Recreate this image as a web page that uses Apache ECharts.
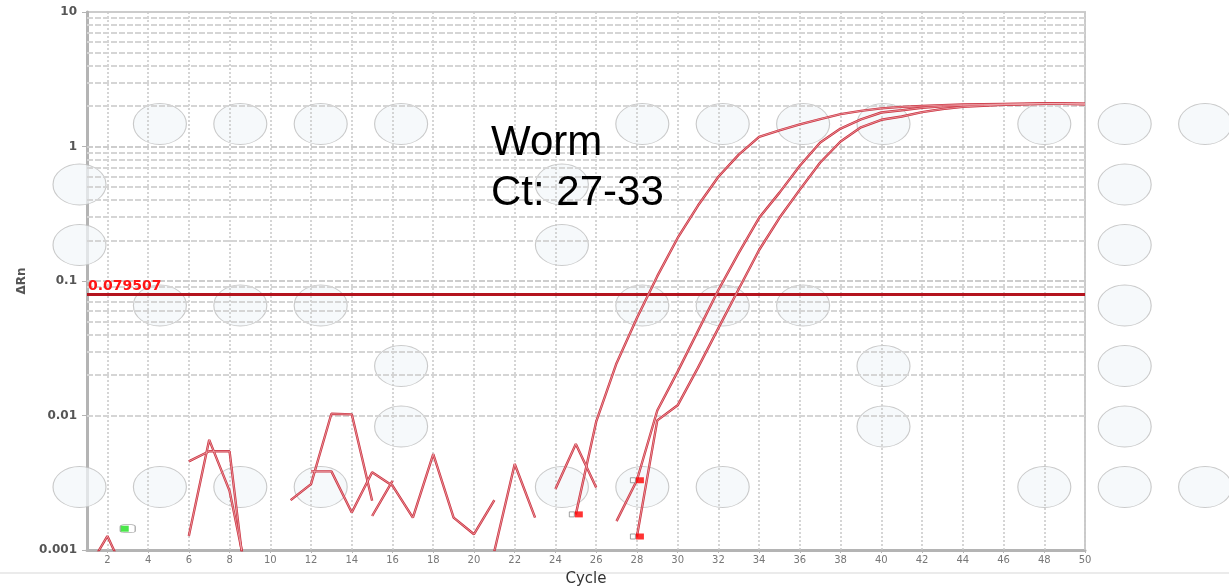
<!DOCTYPE html>
<html><head><meta charset="utf-8">
<script src="https://cdn.jsdelivr.net/npm/echarts@6/dist/echarts.min.js"></script>
<style>html,body{margin:0;padding:0;background:#fff}#c{width:1229px;height:587px}</style>
</head><body><div id="c"></div>
<script>
// ---- data ----
const cycles = [1,2,3,4,5,6,7,8,9,10,11,12,13,14,15,16,17,18,19,20,21,22,23,24,25,26,27,28,29,30,31,32,33,34,35,36,37,38,39,40,41,42,43,44,45,46,47,48,49,50];
const sampleA = [0.0007,0.00127,0.0006,null,null,0.00456,0.00542,0.00542,0.0003,null,
  0.00235,0.00309,0.0103,0.0102,0.00232,null,null,null,null,null,
  0.00098,0.00436,0.00174,null,0.00184,0.0090,0.0245,0.0531,0.1086,0.209,
  0.364,0.596,0.871,1.18,1.32,1.46,1.60,1.74,1.84,1.92,
  1.97,2.00,2.03,2.05,2.06,2.07,2.08,2.09,2.08,2.07];
const sampleB = [null,null,null,null,null,0.00127,0.00659,0.00275,0.0005,null,
  null,0.00384,0.00384,0.0019,0.00378,0.00301,0.00174,0.00517,0.00174,0.00131,
  0.00235,null,null,null,null,null,0.00164,0.0033,0.0109,0.0212,
  0.0426,0.0857,0.162,0.295,0.454,0.72,1.07,1.36,1.59,1.79,
  1.86,1.94,1.99,2.02,2.04,2.06,2.07,2.08,2.08,2.07];
const sampleC = [null,null,null,null,null,null,null,null,null,null,
  null,null,null,null,0.00179,0.00327,null,null,null,null,
  null,null,null,0.00284,0.00615,0.00292,null,0.00126,0.0092,0.0119,
  0.0227,0.0446,0.0871,0.170,0.295,0.478,0.76,1.09,1.39,1.58,
  1.67,1.80,1.90,1.97,2.01,2.04,2.06,2.08,2.08,2.07];
const threshold = 0.079507;
const thresholdLabel = '0.079507';
const baselineStart = [[3, 0.00144]];
const baselineEnd = [[25, 0.00184], [28, 0.0033], [28, 0.00126]];
const xTickValues = [2,4,6,8,10,12,14,16,18,20,22,24,26,28,30,32,34,36,38,40,42,44,46,48,50];
const yTickValues = [0.001, 0.01, 0.1, 1, 10];
const yTickLabels = ['0.001', '0.01', '0.1', '1', '10'];
const yDecadeLines = [0.01, 0.1, 1];
const yMinorLines = [0.002,0.003,0.004,0.005,0.006,0.007,0.008,0.009,
  0.02,0.03,0.04,0.05,0.06,0.07,0.08,0.09,
  0.2,0.3,0.4,0.5,0.6,0.7,0.8,0.9,
  2,3,4,5,6,7,8,9];
// background plate wells [column, row]
const wells = [[1,0],[2,0],[3,0],[4,0],[7,0],[8,0],[9,0],[10,0],[12,0],[13,0],[14,0],
  [0,1],[6,1],[13,1],
  [0,2],[6,2],[13,2],
  [1,3],[2,3],[3,3],[7,3],[8,3],[9,3],[13,3],
  [4,4],[10,4],[13,4],
  [4,5],[10,5],[13,5],
  [0,6],[1,6],[2,6],[3,6],[6,6],[7,6],[8,6],[12,6],[13,6],[14,6]];
const annotation = ['Worm', 'Ct: 27-33'];

// ---- chart ----
const chart = echarts.init(document.getElementById('c'), null, {renderer: 'canvas'});
const toPairs = arr => cycles.map((c, i) => [c, arr[i]]);
function curve(name, arr, color, width, z) {
  return {type: 'line', name, data: toPairs(arr), showSymbol: false, symbol: 'none',
    connectNulls: false, clip: true, z, silent: true,
    lineStyle: {color, width}};
}
const gridLineData = [];
xTickValues.forEach(v => gridLineData.push({xAxis: v, lineStyle: {color: '#c8c8c8', type: [2, 2], width: 1.5}}));
yDecadeLines.forEach(v => gridLineData.push({yAxis: v, lineStyle: {color: '#cdcdcd', type: [6, 2], width: 2}}));
yMinorLines.forEach(v => gridLineData.push({yAxis: v, lineStyle: {color: '#d5d5d5', type: [6, 2], width: 2}}));

const option = {
  animation: false,
  backgroundColor: '#ffffff',
  grid: [
    {left: 87, right: 144, top: 12, bottom: 37, show: true, borderColor: '#cccccc', borderWidth: 2, outerBoundsMode: 'none'},
    {left: 79.5, top: 124, width: 1125.6, height: 363, show: false, outerBoundsMode: 'none'}
  ],
  xAxis: [
    {type: 'value', min: 1, max: 50, gridIndex: 0,
      name: 'Cycle', nameLocation: 'middle', nameGap: 22,
      nameTextStyle: {fontFamily: 'DejaVu Sans', fontSize: 15, color: '#333'},
      axisLine: {show: true, onZero: false, lineStyle: {color: '#b4b4b4', width: 3}},
      axisTick: {show: true, customValues: xTickValues, length: 3, lineStyle: {color: '#b4b4b4'}},
      axisLabel: {customValues: xTickValues, margin: 5, fontFamily: 'DejaVu Sans', fontSize: 10, color: '#777'},
      splitLine: {show: false}},
    {type: 'value', min: 0, max: 14, gridIndex: 1, show: false}
  ],
  yAxis: [
    {type: 'log', logBase: 10, min: 0.001, max: 10, gridIndex: 0,
      name: 'ΔRn', nameLocation: 'middle', nameGap: 58, nameRotate: 90,
      nameTextStyle: {fontFamily: 'DejaVu Sans', fontSize: 12, fontWeight: 'bold', color: '#555'},
      axisLine: {show: true, lineStyle: {color: '#b4b4b4', width: 3}},
      axisTick: {show: true, length: 5, lineStyle: {color: '#b4b4b4'}},
      axisLabel: {margin: 10, fontFamily: 'DejaVu Sans', fontSize: 12, fontWeight: 'bold', color: '#555',
        formatter: v => {
          const k = yTickValues.findIndex(t => Math.abs(Math.log10(t) - Math.log10(v)) < 1e-6);
          return k >= 0 ? yTickLabels[k] : '';
        }},
      splitLine: {show: false}},
    {type: 'value', min: 0, max: 6, inverse: true, gridIndex: 1, show: false}
  ],
  graphic: [
    {type: 'line', shape: {x1: 0, y1: 573, x2: 1229, y2: 573}, style: {stroke: '#e4e4e4', lineWidth: 1.5}, z: 0},
    {type: 'text', left: 491, top: 118, z: 10,
      style: {text: annotation.join('\n'), font: '42px "Liberation Sans", Arial, sans-serif', lineHeight: 50, fill: '#000'}}
  ],
  series: [
    {type: 'scatter', xAxisIndex: 1, yAxisIndex: 1, data: wells, symbol: 'circle', symbolSize: [53, 41],
      clip: false, silent: true, z: 1,
      itemStyle: {color: 'rgba(243,247,249,0.9)', borderColor: '#bdbdbd', borderWidth: 1}},
    {type: 'line', name: 'grid', data: [], xAxisIndex: 0, yAxisIndex: 0, z: 2, silent: true,
      markLine: {silent: true, symbol: 'none', animation: false, label: {show: false}, data: gridLineData}},
    {type: 'line', name: 'threshold', data: [], z: 4, silent: true,
      markLine: {silent: true, symbol: 'none', animation: false,
        lineStyle: {color: '#b4141e', width: 3, type: 'solid'},
        label: {show: true, position: 'insideStartTop', formatter: thresholdLabel, distance: [1, 1],
          color: '#ff1414', fontFamily: 'DejaVu Sans', fontWeight: 'bold', fontSize: 14},
        data: [{yAxis: threshold}]}},
    curve('A', sampleA, '#cc3340', 2.4, 5),
    curve('B', sampleB, '#cc3340', 2.4, 5),
    curve('C', sampleC, '#cc3340', 2.4, 5),
    curve('A-inner', sampleA, '#f2b6bb', 0.7, 6),
    curve('B-inner', sampleB, '#f2b6bb', 0.7, 6),
    curve('C-inner', sampleC, '#f2b6bb', 0.7, 6),
    {type: 'scatter', data: baselineStart, symbol: 'roundRect', symbolSize: [15, 8], z: 7, silent: true,
      itemStyle: {color: '#ffffff', borderColor: '#999', borderWidth: 1}},
    {type: 'scatter', data: baselineStart, symbol: 'rect', symbolSize: [8, 6], symbolOffset: [-3, 0], z: 8, silent: true,
      itemStyle: {color: '#1ee01e'}},
    {type: 'scatter', data: baselineEnd, symbol: 'rect', symbolSize: [5, 5], symbolOffset: [-4, 0], z: 7, silent: true,
      itemStyle: {color: '#ffffff', borderColor: '#888', borderWidth: 1}},
    {type: 'scatter', data: baselineEnd, symbol: 'rect', symbolSize: [8, 6], symbolOffset: [3, 0], z: 8, silent: true,
      itemStyle: {color: '#ff0000'}}
  ]
};
chart.setOption(option);
</script></body></html>
